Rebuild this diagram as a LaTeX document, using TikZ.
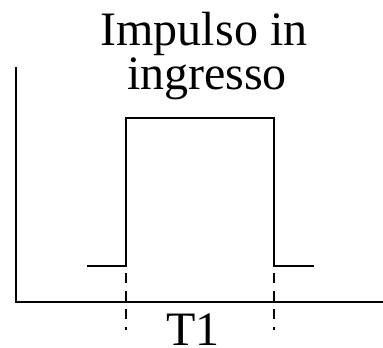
\documentclass[tikz,border=0pt]{standalone}
\usepackage{fontspec}
\setmainfont{Liberation Serif}
\begin{document}
\begin{tikzpicture}[x=1pt,y=-1pt,
  sig/.style={line width=2pt,line cap=rect},
  guide/.style={line width=2pt,dash pattern=on 10pt off 8pt},
  lbl/.style={font=\fontsize{48}{48}\selectfont,inner sep=0pt,anchor=base}]
\useasboundingbox (0,0) rectangle (383,348);
\coordinate (ytop) at (16,68);
\coordinate (origin) at (16,302);
\coordinate (xend) at (383,302);
\draw[sig] (ytop) -- (origin) -- (xend);
\coordinate (s0) at (87,266);
\coordinate (s1) at (126,266);
\coordinate (s2) at (126,118);
\coordinate (s3) at (274,118);
\coordinate (s4) at (274,266);
\coordinate (s5) at (314,266);
\draw[line width=2pt] (s0) -- (s1) -- (s2) -- (s3) -- (s4) -- (s5);
\coordinate (d1a) at (126,273);
\coordinate (d1b) at (126,330);
\coordinate (d2a) at (274,273);
\coordinate (d2b) at (274,330);
\draw[guide] (d1a) -- (d1b);
\draw[guide] (d2a) -- (d2b);
\node[lbl] (t1) at (204,45) {Impulso in};
\node[lbl] (t2) at (207,89) {ingresso};
\node[lbl] (t3) at (193,345) {T1};
\end{tikzpicture}
\end{document}
